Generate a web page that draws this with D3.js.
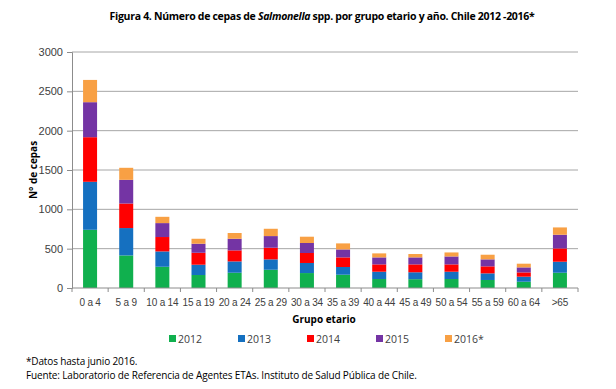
<!DOCTYPE html>
<html>
<head>
<meta charset="utf-8">
<script src="https://cdn.jsdelivr.net/npm/d3@7"></script>
<style>
  body { margin: 0; background: #fff; }
  svg text { font-family: "Open Sans", "Liberation Sans", sans-serif; }
</style>
</head>
<body>
<svg id="chart" width="616" height="389"></svg>
<script>
// age groups on the x axis
const grupos = ['0 a 4', '5 a 9', '10 a 14', '15 a 19', '20 a 24', '25 a 29', '30 a 34',
  '35 a 39', '40 a 44', '45 a 49', '50 a 54', '55 a 59', '60 a 64', '>65'];

// strains per year
const y2012 = [740, 414, 270, 165, 194, 232, 190, 169, 114, 112, 114, 102, 80, 194];
const y2013 = [610, 348, 195, 131, 144, 132, 128, 98, 93, 88, 93, 84, 64, 140];
const y2014 = [567, 312, 183, 152, 140, 148, 127, 122, 93, 100, 93, 89, 54, 169];
const y2015 = [445, 301, 177, 115, 148, 148, 127, 101, 89, 89, 101, 89, 64, 174];
const y2016 = [283, 153, 80, 63, 73, 93, 80, 77, 51, 43, 51, 59, 47, 93];

const seriesNames = ['2012', '2013', '2014', '2015', '2016*'];
const colors = ['#10b04e', '#1570c0', '#ff0000', '#7434a4', '#f8a044'];
const yTicks = [0, 500, 1000, 1500, 2000, 2500, 3000];

const svg = d3.select('#chart');
const margin = { left: 72, right: 38, top: 52, bottom: 101 };
const width = 616 - margin.left - margin.right,
  height = 389 - margin.top - margin.bottom;

// build rows for d3.stack
const rows = grupos.map((g, i) => ({
  grupo: g, '2012': y2012[i], '2013': y2013[i], '2014': y2014[i], '2015': y2015[i], '2016*': y2016[i]
}));
const stacked = d3.stack().keys(seriesNames)(rows);

const x = d3.scaleBand().domain(grupos).range([0, width]);
const y = d3.scaleLinear().domain([0, 3000]).range([height, 0]);

// title
const title = svg.append('text')
  .attr('x', 322).attr('y', 20)
  .attr('text-anchor', 'middle')
  .attr('font-size', 10.5).attr('font-weight', 'bold').attr('fill', '#000')
  .attr('letter-spacing', -0.3);
title.append('tspan').text('Figura 4. Número de cepas de ');
title.append('tspan').attr('font-style', 'italic').text('Salmonella');
title.append('tspan').text(' spp. por grupo etario y año. Chile 2012 -2016*');

const g = svg.append('g').attr('transform', 'translate(' + margin.left + ',' + margin.top + ')');

// gridlines
g.append('g').selectAll('line').data(yTicks.slice(1)).enter().append('line')
  .attr('x1', 0).attr('x2', width)
  .attr('y1', d => y(d)).attr('y2', d => y(d))
  .attr('stroke', '#a6a6a6').attr('stroke-width', 1);

// bars
const barW = 14;
g.append('g').selectAll('g').data(stacked).enter().append('g')
  .attr('fill', (d, i) => colors[i])
  .selectAll('rect').data(d => d).enter().append('rect')
  .attr('x', d => x(d.data.grupo) + x.bandwidth() / 2 - barW / 2)
  .attr('y', d => y(d[1]))
  .attr('width', barW)
  .attr('height', d => y(d[0]) - y(d[1]));

// y axis
const yAxis = g.append('g')
  .call(d3.axisLeft(y).tickValues(yTicks).tickFormat(d3.format('d')).tickSize(5).tickPadding(4));
yAxis.select('.domain').attr('stroke', '#8c8c8c');
yAxis.selectAll('.tick line').attr('stroke', '#8c8c8c');
yAxis.selectAll('text').attr('fill', '#404040')
  .style('font-family', '"Liberation Sans", sans-serif').style('font-size', '11px');

// x axis, ticks between categories
const xAxis = g.append('g').attr('transform', 'translate(0,' + height + ')');
xAxis.append('line').attr('x1', 0).attr('x2', width).attr('stroke', '#8c8c8c');
xAxis.selectAll('line.tk').data(d3.range(grupos.length + 1)).enter().append('line')
  .attr('class', 'tk')
  .attr('x1', i => i * x.step()).attr('x2', i => i * x.step())
  .attr('y1', 0).attr('y2', 4).attr('stroke', '#8c8c8c');
xAxis.selectAll('text').data(grupos).enter().append('text')
  .attr('x', d => x(d) + x.bandwidth() / 2)
  .attr('y', 18)
  .attr('text-anchor', 'middle')
  .attr('fill', '#404040')
  .style('font-family', '"Liberation Sans", sans-serif').style('font-size', '10px')
  .attr('letter-spacing', -0.2)
  .text(d => d);

// axis titles
svg.append('text')
  .attr('transform', 'translate(37,170) rotate(-90)')
  .attr('text-anchor', 'middle')
  .attr('font-size', 10).attr('font-weight', 'bold')
  .text('N° de cepas');
svg.append('text')
  .attr('x', 324).attr('y', 323)
  .attr('text-anchor', 'middle')
  .attr('font-size', 10).attr('font-weight', 'bold')
  .text('Grupo etario');

// legend
const legendX = [169, 238, 307, 376, 445];
const legend = svg.append('g').selectAll('g').data(seriesNames).enter().append('g')
  .attr('transform', (d, i) => 'translate(' + legendX[i] + ',335)');
legend.append('rect').attr('width', 7).attr('height', 7).attr('fill', (d, i) => colors[i]);
legend.append('text').attr('x', 9).attr('y', 7.5)
  .attr('font-size', 10.5).attr('fill', '#404040').text(d => d);

// footnotes
svg.append('text').attr('x', 26).attr('y', 365).attr('font-size', 10)
  .attr('letter-spacing', -0.15)
  .text('*Datos hasta junio 2016.');
svg.append('text').attr('x', 26).attr('y', 379).attr('font-size', 10)
  .attr('letter-spacing', -0.15)
  .text('Fuente: Laboratorio de Referencia de Agentes ETAs. Instituto de Salud Pública de Chile.');
</script>
</body>
</html>
